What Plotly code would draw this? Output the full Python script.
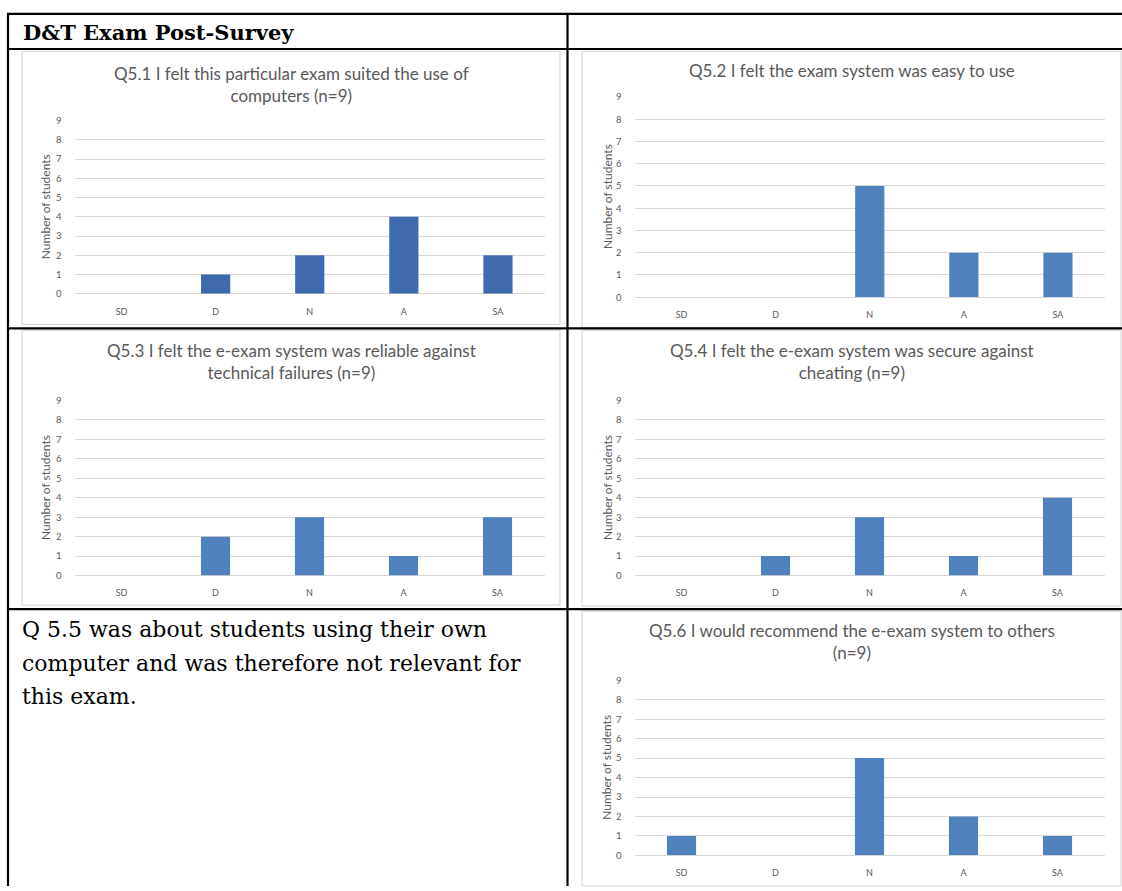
import plotly.graph_objects as go

categories = ["SD", "D", "N", "A", "SA"]
q51 = [0, 1, 2, 4, 2]
q52 = [0, 0, 5, 2, 2]
q53 = [0, 2, 3, 1, 3]
q54 = [0, 1, 3, 1, 4]
q56 = [1, 0, 5, 2, 1]

title51 = "Q5.1 I felt this particular exam suited the use of<br>computers (n=9)"
title52 = "Q5.2 I felt the exam system was easy to use"
title53 = "Q5.3 I felt the e-exam system was reliable against<br>technical failures (n=9)"
title54 = "Q5.4 I felt the e-exam system was secure against<br>cheating (n=9)"
title56 = "Q5.6 I would recommend the e-exam system to others<br>(n=9)"
y_title = "Number of students"
y_ticks = list(range(0, 10))

header_text = "D&T Exam Post-Survey"
note_lines = [
    "Q 5.5 was about students using their own",
    "computer and was therefore not relevant for",
    "this exam.",
]

W, H = 1122, 891


def px(x):
    return x / W


def py(y):
    return 1 - y / H


DARK = "#3F6BAE"
MID = "#4F81BD"
GRID = "#D9D9D9"
TXT = "#595959"
SANS = "Lato"
SERIF = "DejaVu Serif"

# (values, title, color, plot box (x0,x1,ytop,ybottom), frame (x0,x1,y0,y1), title center y, ytitle x)
charts = [
    (q51, title51, DARK, (74.5, 545, 117, 292), (22, 560, 47, 323), 80, 45),
    (q52, title52, MID, (634.5, 1105, 93, 295.5), (582, 1121, 47, 326), 66, 607),
    (q53, title53, MID, (74.5, 544.5, 400, 577), (22, 560, 329, 607), 361, 45),
    (q54, title54, MID, (634.5, 1104.5, 400, 577), (582, 1121, 329, 608), 361, 607),
    (q56, title56, MID, (634.5, 1104.5, 683, 860), (582, 1121, 613, 891), 644, 607),
]

fig = go.Figure()
shapes = []
annotations = []
layout_axes = {}

for i, (vals, title, color, box, frame, ty, ytx) in enumerate(charts, start=1):
    xa = "x" if i == 1 else f"x{i}"
    ya = "y" if i == 1 else f"y{i}"
    fig.add_trace(go.Bar(
        x=categories, y=vals, xaxis=xa, yaxis=ya,
        marker=dict(color=color, line=dict(width=0)),
        showlegend=False, hoverinfo="x+y",
    ))
    x0, x1, yt, yb = box
    xkey = "xaxis" if i == 1 else f"xaxis{i}"
    ykey = "yaxis" if i == 1 else f"yaxis{i}"
    layout_axes[xkey] = dict(
        domain=[px(x0), px(x1)], anchor=ya, type="category",
        categoryorder="array", categoryarray=categories,
        showgrid=False, zeroline=False, showline=False,
        ticks="outside", ticklen=9, tickcolor="rgba(0,0,0,0)",
        tickfont=dict(family=SANS, size=9, color=TXT),
        fixedrange=True,
    )
    layout_axes[ykey] = dict(
        domain=[py(yb), py(yt - 0.3)], anchor=xa, range=[0, 9.015],
        tickmode="array", tickvals=y_ticks,
        showgrid=True, gridcolor=GRID, gridwidth=1,
        zeroline=True, zerolinecolor=GRID, zerolinewidth=1,
        showline=False,
        ticks="outside", ticklen=10, tickcolor="rgba(0,0,0,0)",
        tickfont=dict(family=SANS, size=9.5, color=TXT),
        fixedrange=True,
    )
    fx0, fx1, fy0, fy1 = frame
    shapes.append(dict(type="rect", xref="paper", yref="paper",
                       x0=px(fx0), x1=px(fx1), y0=py(fy1), y1=py(fy0),
                       line=dict(color=GRID, width=1.2), layer="below"))
    annotations.append(dict(
        text=title, xref="paper", yref="paper",
        x=px((fx0 + fx1) / 2), y=py(ty), xanchor="center", yanchor="middle",
        showarrow=False, font=dict(family=SANS, size=17, color=TXT),
    ))
    annotations.append(dict(
        text=y_title, xref="paper", yref="paper",
        x=px(ytx), y=py((yt + yb) / 2), xanchor="center", yanchor="middle",
        textangle=-90, showarrow=False,
        font=dict(family=SANS, size=12, color=TXT),
    ))

# table borders
BL = dict(color="black", width=2.2)
for yy in (9, 44.5, 327, 611):
    shapes.append(dict(type="line", xref="paper", yref="paper",
                       x0=px(7), x1=px(1122), y0=py(yy), y1=py(yy), line=BL))
for xx in (8, 567.5):
    shapes.append(dict(type="line", xref="paper", yref="paper",
                       x0=px(xx), x1=px(xx), y0=py(8), y1=py(891), line=BL))

annotations.append(dict(
    text="<b>" + header_text.replace("&", "&amp;") + "</b>", xref="paper", yref="paper",
    x=px(21), y=py(28), xanchor="left", yanchor="middle", showarrow=False,
    font=dict(family=SERIF, size=21, color="black"),
))
for k, line in enumerate(note_lines):
    annotations.append(dict(
        text=line, xref="paper", yref="paper",
        x=px(20), y=py(632 + 33.5 * k), xanchor="left", yanchor="middle",
        showarrow=False, font=dict(family=SERIF, size=22, color="black"),
    ))

fig.update_layout(
    width=W, height=H, margin=dict(l=0, r=0, t=0, b=0),
    paper_bgcolor="white", plot_bgcolor="white",
    bargap=0.69, shapes=shapes, annotations=annotations,
    **layout_axes,
)

fig.write_html(
    "out.html",
    config={"displayModeBar": False},
    post_script="document.body.style.margin='0';document.body.style.overflow='hidden';",
)
